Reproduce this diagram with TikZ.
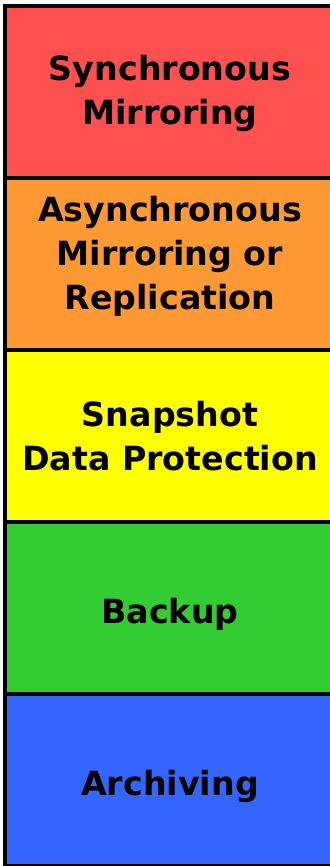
\documentclass[tikz,border=0pt]{standalone}
\usepackage{fontspec}
\setmainfont{DejaVu Sans}
\usepackage{tikz}

\definecolor{syncred}{RGB}{255,80,80}
\definecolor{asyncorange}{RGB}{255,153,51}
\definecolor{snapyellow}{RGB}{255,255,0}
\definecolor{backupgreen}{RGB}{51,204,51}
\definecolor{archiveblue}{RGB}{51,102,255}

\begin{document}
\begin{tikzpicture}[x=0.03cm,y=0.03cm]
  \tikzstyle{Layer}=[draw=black, line width=3pt, minimum width=10.5cm,
    minimum height=5.16cm, inner sep=0pt]
  \tikzstyle{Caption}=[align=center,
    font=\fontsize{28.4}{37.5}\selectfont\bfseries]

  \useasboundingbox (0,0) rectangle (329,866);

  \node[Layer, fill=archiveblue,
        label={[Caption,yshift=-0.2cm,xshift=-0.3cm]center:Archiving}] (archive) at (180,86) {};
  \node[Layer, fill=backupgreen,
        label={[Caption,yshift=-0.18cm,xshift=-0.3cm]center:Backup}] (backup) at (180,258) {};
  \node[Layer, fill=snapyellow,
        label={[Caption,xshift=-0.3cm]center:Snapshot\\Data Protection}] (snap) at (180,430) {};
  \node[Layer, fill=asyncorange,
        label={[Caption,yshift=0.24cm,xshift=-0.3cm]center:Asynchronous\\Mirroring or\\Replication}] (async) at (180,602) {};
  \node[Layer, fill=syncred,
        label={[Caption,yshift=-0.03cm,xshift=-0.3cm]center:Synchronous\\Mirroring}] (sync) at (180,774) {};
\end{tikzpicture}
\end{document}
